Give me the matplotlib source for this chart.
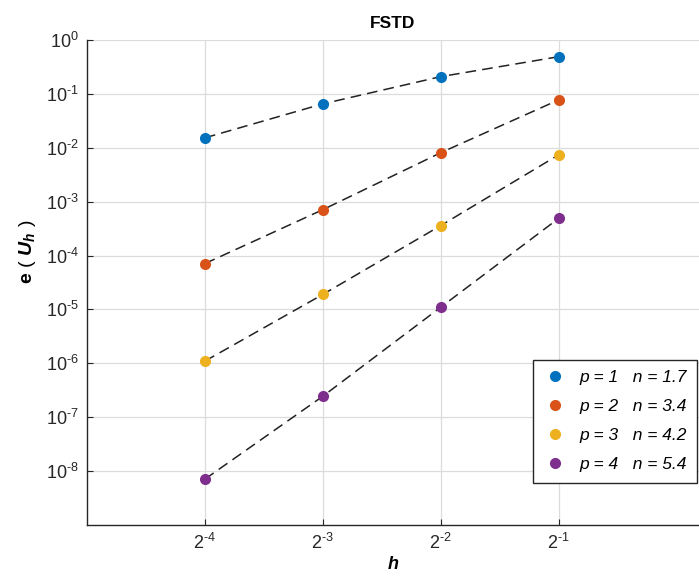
import numpy as np
import matplotlib
matplotlib.use("Agg")
import matplotlib.pyplot as plt
from matplotlib.ticker import FixedLocator, NullLocator

plt.rcParams['font.family'] = ['Liberation Sans', 'DejaVu Sans']
plt.rcParams['axes.unicode_minus'] = False
plt.rcParams['mathtext.fontset'] = 'custom'
plt.rcParams['mathtext.rm'] = 'Liberation Sans'
plt.rcParams['mathtext.it'] = 'Liberation Sans:italic:bold'
plt.rcParams['mathtext.bf'] = 'Liberation Sans:bold'

h = [2**-4, 2**-3, 2**-2, 2**-1]
h_exps = [-4, -3, -2, -1]
err_p1 = [0.0153, 0.0653, 0.209, 0.49]
err_p2 = [7.1e-5, 7.1e-4, 8.1e-3, 0.0774]
err_p3 = [1.1e-6, 1.9e-5, 3.6e-4, 7.4e-3]
err_p4 = [7.1e-9, 2.45e-7, 1.1e-5, 4.9e-4]
labels = ['p = 1   n = 1.7', 'p = 2   n = 3.4', 'p = 3   n = 4.2', 'p = 4   n = 5.4']
colors = ['#0072BD', '#D95319', '#EDB120', '#7E2F8E']
series = [err_p1, err_p2, err_p3, err_p4]
y_exps = list(range(-8, 1))


def sup(base, k):
    if k < 0:
        return '$\\mathregular{%s^{\\text{-}%d}}$' % (base, -k)
    return '$\\mathregular{%s^{%d}}$' % (base, k)


fig = plt.figure(figsize=(6.99, 5.81), dpi=100)
ax = fig.add_axes([87/699, 1-525/581, (699-87)/699, (525-40)/581])
ax.set_xscale('log', base=2)
ax.set_yscale('log')

handles = []
for s, c, lab in zip(series, colors, labels):
    ax.plot(h, s, color='#222222', lw=1.1, dashes=(7, 4), zorder=2)
    hd, = ax.plot(h, s, 'o', color=c, markersize=8, markeredgewidth=0, zorder=3, label=lab)
    handles.append(hd)

ax.set_xlim(2**-5, 2**0.19)
ax.set_ylim(1e-9, 1)
ax.xaxis.set_major_locator(FixedLocator(h))
ax.set_xticklabels([sup('2', k) for k in h_exps])
ax.xaxis.set_minor_locator(NullLocator())
ax.yaxis.set_major_locator(FixedLocator([10.0**k for k in y_exps]))
ax.set_yticklabels([sup('10', k) for k in y_exps])
ax.yaxis.set_minor_locator(NullLocator())

ax.grid(True, color='#dcdcdc', lw=0.9)
ax.set_axisbelow(True)
for sp in ['top', 'right']:
    ax.spines[sp].set_visible(False)
for sp in ['left', 'bottom']:
    ax.spines[sp].set_color('#262626')
    ax.spines[sp].set_linewidth(1.0)
ax.tick_params(direction='in', length=4, labelsize=13, colors='#262626', pad=6)

ax.set_title('FSTD', fontsize=12.5, fontweight='bold', pad=9)
ax.set_xlabel('$h$', fontsize=13, labelpad=2)
ax.set_ylabel('$\\mathbf{e}\\ (\\ U_h\\ )$', fontsize=14, labelpad=5)
ax.yaxis.set_label_coords(-0.08, 0.563)

leg = ax.legend(handles=handles, loc='lower right', bbox_to_anchor=(0.997, 0.087),
                borderaxespad=0, fancybox=False, framealpha=1, edgecolor='#262626',
                prop={'style': 'italic', 'size': 12.5}, handlelength=1.3,
                handletextpad=0.75, labelspacing=0.8, borderpad=0.6)
leg.get_frame().set_linewidth(1.0)

fig.savefig('out.png', dpi=100)
